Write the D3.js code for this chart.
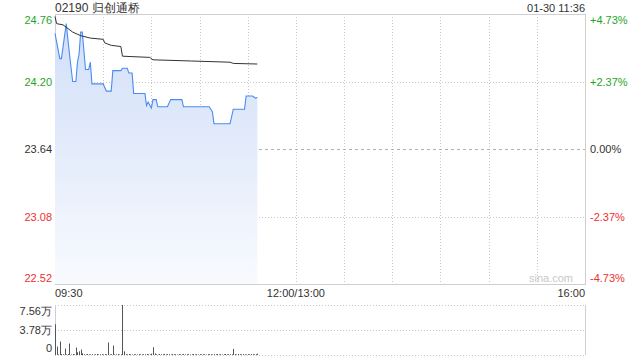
<!DOCTYPE html>
<html>
  <head>
    <meta charset="utf-8">
    <title>02190 intraday</title>
    <script src="https://d3js.org/d3.v7.min.js"></script>
    <style>
      body { margin: 0; background: #fff; }
      #chart { display: block; font-family: "Liberation Sans", Arial, sans-serif; }
      .grid { stroke: #c8c8c8; stroke-dasharray: 1,2; shape-rendering: crispEdges; }
      .frame { fill: none; stroke: #cfcfcf; shape-rendering: crispEdges; }
      .lbl { font-size: 11px; fill: #333; }
    </style>
  </head>
  <body>
    <svg id="chart" width="640" height="360">
      <defs>
        <linearGradient id="fillGrad" gradientUnits="userSpaceOnUse" x1="0" y1="14" x2="0" y2="284">
          <stop offset="0" stop-color="#d0def8"></stop>
          <stop offset="1" stop-color="#f8fafe"></stop>
        </linearGradient>
      </defs>
      <g id="gridGroup"></g>
      <g id="chartGroup"></g>
      <g id="volGroup"></g>
      <g id="labelGroup"></g>
    </svg>
    <script>
      // chart data
      var title = "02190 归创通桥";
      var stamp = "01-30 11:36";
      var prevClose = 23.64;
      var priceTicks = [24.76, 24.20, 23.64, 23.08, 22.52];
      var pctLabels = ["+4.73%", "+2.37%", "0.00%", "-2.37%", "-4.73%"];
      var timeLabels = ["09:30", "12:00/13:00", "16:00"];
      var volTicks = [75600, 37800, 0];
      var volLabels = ["7.56万", "3.78万", "0"];

      var priceTimes = ["09:30", "09:33", "09:34", "09:37", "09:39", "09:41", "09:43", "09:44", "09:45", "09:46",
        "09:47", "09:49", "09:51", "09:52", "09:53", "10:00", "10:02", "10:05", "10:06", "10:11",
        "10:12", "10:15", "10:16", "10:18", "10:19", "10:26", "10:27", "10:28", "10:30", "10:31",
        "10:33", "10:34", "10:40", "10:42", "10:49", "10:50", "11:06", "11:08", "11:09", "11:19",
        "11:21", "11:28", "11:29", "11:33", "11:35", "11:36"];
      var prices = [24.60, 24.39, 24.39, 24.68, 24.43, 24.20, 24.20, 24.36, 24.43, 24.61,
        24.61, 24.30, 24.30, 24.36, 24.18, 24.18, 24.12, 24.12, 24.29, 24.29,
        24.31, 24.31, 24.27, 24.27, 24.10, 24.10, 24.00, 24.03, 23.98, 24.05,
        24.05, 23.99, 23.99, 24.05, 24.05, 23.99, 23.99, 23.95, 23.85, 23.85,
        23.97, 23.97, 24.08, 24.08, 24.06, 24.07];

      var avgTimes = ["09:30", "09:31", "09:35", "09:41", "09:46", "09:52", "10:00", "10:01", "10:05",
        "10:11", "10:12", "10:29", "10:31", "10:55", "11:19", "11:21", "11:36"];
      var avgPrices = [24.74, 24.68, 24.67, 24.61, 24.58, 24.56, 24.55, 24.52, 24.50,
        24.49, 24.41, 24.40, 24.38, 24.37, 24.36, 24.35, 24.345];

      // volume per minute from 09:30
      var volumes = [46500, 12700, 800, 20400, 1500, 1200, 9700, 1000, 1500, 17400,
        900, 1300, 1000, 11200, 4100, 5600, 8200, 2500, 1200, 800,
        1500, 1000, 900, 1300, 700, 1100, 1600, 900, 1000, 1200,
        800, 1400, 1000, 18900, 1000, 1200, 14300, 900, 1100, 1300,
        800, 1000, 75600, 5600, 1200, 900, 1500, 1000, 800, 1300,
        1100, 900, 1400, 1000, 800, 1200, 1000, 1500, 1100, 900,
        2000, 11800, 2500, 1000, 800, 1400, 1200, 1000, 1600, 900,
        1300, 1100, 800, 1500, 1000, 1200, 900, 1400, 1100, 1000,
        1600, 900, 1200, 1300, 800, 1100, 1500, 1000, 1200, 900,
        1400, 1000, 1300, 1100, 800, 1200, 1500, 1000, 900, 1300,
        1100, 1400, 1000, 1200, 800, 1300, 1500, 1000, 1100, 1200,
        1000, 9200, 1300, 900, 1500, 1100, 1000, 1400, 1200, 800,
        1300, 1000, 1500, 1100, 900, 1200, 2000];

      // page elements
      var plot = { x0: 55, x1: 585, y0: 14, y1: 284 };
      var vol = { y0: 305, y1: 355 };
      var green = "#1fa51f", red = "#ee3030";

      // minutes of trading since 09:30, skipping lunch
      function toMin(t) {
        var p = t.split(":"), m = (+p[0]) * 60 + (+p[1]) - 570;
        return m > 150 ? m - 60 : m;
      }

      var x = d3.scaleLinear().domain([0, 330]).range([plot.x0, plot.x1]);
      var y = d3.scaleLinear().domain([priceTicks[4], priceTicks[0]]).range([plot.y1, plot.y0]);
      var yv = d3.scaleLinear().domain([0, volTicks[0]]).range([vol.y1, vol.y0]);

      var grid = d3.select("#gridGroup");
      var chartGroup = d3.select("#chartGroup");
      var volGroup = d3.select("#volGroup");
      var labels = d3.select("#labelGroup");

      // vertical grid every half hour
      grid.selectAll(".vgrid")
        .data(d3.range(30, 330, 30))
        .enter().append("line")
          .attr("class", "grid")
          .attr("x1", function(d) { return Math.round(x(d)) + 0.5; })
          .attr("x2", function(d) { return Math.round(x(d)) + 0.5; })
          .attr("y1", plot.y0)
          .attr("y2", plot.y1);
      grid.selectAll(".hgrid")
        .data(priceTicks.slice(1, 4))
        .enter().append("line")
          .attr("class", "grid")
          .attr("x1", plot.x0)
          .attr("x2", plot.x1)
          .attr("y1", function(d) { return Math.round(y(d)) + 0.5; })
          .attr("y2", function(d) { return Math.round(y(d)) + 0.5; })
          .style("stroke", function(d) { return d == prevClose ? "#b0b0b0" : null; })
          .style("stroke-dasharray", function(d) { return d == prevClose ? "3,3" : null; });
      grid.append("rect")
        .attr("class", "frame")
        .attr("x", plot.x0 + 0.5)
        .attr("y", plot.y0 + 0.5)
        .attr("width", plot.x1 - plot.x0)
        .attr("height", plot.y1 - plot.y0);

      // price area and lines
      var pts = priceTimes.map(function(t, i) { return [toMin(t), prices[i]]; });
      var area = d3.area()
        .x(function(d) { return x(d[0]); })
        .y0(plot.y1)
        .y1(function(d) { return y(d[1]); });
      var line = d3.line()
        .x(function(d) { return x(d[0]); })
        .y(function(d) { return y(d[1]); });
      chartGroup.append("path")
        .attr("d", area(pts))
        .attr("fill", "url(#fillGrad)");
      chartGroup.append("path")
        .attr("d", line(pts))
        .attr("fill", "none")
        .attr("stroke", "#4a8cf0")
        .attr("stroke-width", 1.1);
      var avgPts = avgTimes.map(function(t, i) { return [toMin(t), avgPrices[i]]; });
      chartGroup.append("path")
        .attr("d", line(avgPts))
        .attr("fill", "none")
        .attr("stroke", "#333")
        .attr("stroke-width", 1);

      // volume panel
      volGroup.selectAll(".vline")
        .data(volTicks)
        .enter().append("line")
          .attr("class", "grid")
          .attr("x1", plot.x0)
          .attr("x2", plot.x1)
          .attr("y1", function(d) { return Math.round(yv(d)) + 0.5; })
          .attr("y2", function(d) { return Math.round(yv(d)) + 0.5; });
      volGroup.selectAll(".vside")
        .data([plot.x0, plot.x1])
        .enter().append("line")
          .attr("class", "frame")
          .attr("x1", function(d) { return d + 0.5; })
          .attr("x2", function(d) { return d + 0.5; })
          .attr("y1", vol.y0)
          .attr("y2", vol.y1);
      volGroup.selectAll(".bar")
        .data(volumes)
        .enter().append("line")
          .attr("x1", function(d, i) { return Math.round(x(i)) + 0.5; })
          .attr("x2", function(d, i) { return Math.round(x(i)) + 0.5; })
          .attr("y1", yv(0))
          .attr("y2", function(d) { return yv(d); })
          .attr("stroke", "#555")
          .attr("stroke-width", 1);

      // texts
      labels.append("text").attr("class", "lbl").style("font-size", "12px")
        .attr("x", plot.x0).attr("y", 12).text(title);
      labels.append("text").attr("class", "lbl")
        .attr("x", plot.x1).attr("y", 12).attr("text-anchor", "end").text(stamp);
      function tickY(v, i, n) {
        var yy = y(v) + 4;
        if (i == 0) yy += 6;
        if (i == n - 1) yy -= 6;
        return yy;
      }
      function tickColor(v) {
        return v > prevClose ? green : v < prevClose ? red : "#333";
      }
      labels.selectAll(".pl")
        .data(priceTicks)
        .enter().append("text")
          .attr("class", "lbl")
          .attr("x", plot.x0 - 3)
          .attr("y", function(d, i) { return tickY(d, i, priceTicks.length); })
          .attr("text-anchor", "end")
          .style("fill", tickColor)
          .text(function(d) { return d.toFixed(2); });
      labels.selectAll(".pr")
        .data(priceTicks)
        .enter().append("text")
          .attr("class", "lbl")
          .attr("x", plot.x1 + 5)
          .attr("y", function(d, i) { return tickY(d, i, priceTicks.length); })
          .style("fill", tickColor)
          .text(function(d, i) { return pctLabels[i]; });
      labels.selectAll(".tl")
        .data(timeLabels)
        .enter().append("text")
          .attr("class", "lbl")
          .attr("x", function(d, i) { return x([0, 150, 330][i]); })
          .attr("y", 297)
          .attr("text-anchor", function(d, i) { return ["start", "middle", "end"][i]; })
          .text(function(d) { return d; });
      labels.selectAll(".vl")
        .data(volTicks)
        .enter().append("text")
          .attr("class", "lbl")
          .attr("x", plot.x0 - 3)
          .attr("y", function(d, i) { return yv(d) + 4 + (i == 0 ? 6 : i == 2 ? -7 : 0); })
          .attr("text-anchor", "end")
          .text(function(d, i) { return volLabels[i]; });
      labels.append("text")
        .attr("x", plot.x1 - 12).attr("y", 282)
        .attr("text-anchor", "end")
        .style("font-size", "11px").style("fill", "#c8c8c8")
        .text("sina.com");
    </script>
  </body>
</html>
